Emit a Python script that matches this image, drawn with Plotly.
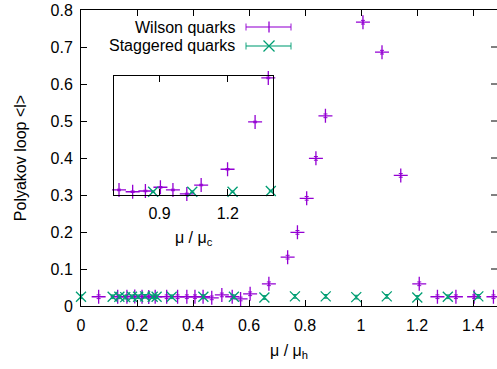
import plotly.graph_objects as go

# ---------------- data ----------------
# main plot: Polyakov loop vs mu/mu_h
wilson_mu_h = [0.063, 0.131, 0.164, 0.192, 0.218, 0.242, 0.265, 0.306, 0.345, 0.378,
               0.407, 0.436, 0.467, 0.503, 0.540, 0.570, 0.604, 0.671, 0.738, 0.773,
               0.806, 0.839, 0.873, 1.007, 1.075, 1.142, 1.208, 1.273, 1.339, 1.404, 1.473]
wilson_pl = [0.025, 0.025, 0.025, 0.026, 0.025, 0.024, 0.025, 0.025, 0.025, 0.025,
             0.025, 0.025, 0.022, 0.030, 0.025, 0.019, 0.033, 0.060, 0.132, 0.199,
             0.291, 0.399, 0.514, 0.767, 0.686, 0.353, 0.060, 0.025, 0.025, 0.025, 0.025]

stag_mu_h = [0.000, 0.113, 0.137, 0.158, 0.182, 0.204, 0.229, 0.256, 0.270, 0.324,
             0.437, 0.546, 0.655, 0.764, 0.874, 0.983, 1.092, 1.201, 1.310, 1.419]
stag_pl = [0.025, 0.025, 0.025, 0.024, 0.025, 0.025, 0.026, 0.025, 0.025, 0.025,
           0.025, 0.025, 0.023, 0.026, 0.026, 0.024, 0.026, 0.023, 0.025, 0.026]

# inset: vs mu/mu_c
inset_wilson_mu_c = [0.722, 0.782, 0.838, 0.904, 0.959, 1.020, 1.083, 1.199, 1.320, 1.378]
inset_wilson_pl = [0.034, 0.022, 0.027, 0.052, 0.034, 0.007, 0.067, 0.173, 0.491, 0.787]
inset_stag_mu_c = [0.872, 1.044, 1.221, 1.389]
inset_stag_pl = [0.022, 0.022, 0.022, 0.027]

x_ticks = [0, 0.2, 0.4, 0.6, 0.8, 1.0, 1.2, 1.4]
x_ticktext = ["0", "0.2", "0.4", "0.6", "0.8", "1", "1.2", "1.4"]
y_ticks = [0, 0.1, 0.2, 0.3, 0.4, 0.5, 0.6, 0.7, 0.8]
y_ticktext = ["0", "0.1", "0.2", "0.3", "0.4", "0.5", "0.6", "0.7", "0.8"]
inset_ticks = [0.9, 1.2]
inset_ticktext = ["0.9", "1.2"]

# ---------------- style ----------------
PURPLE = "#9400d3"
GREEN = "#009e73"
FONT = "Liberation Sans, Arial, sans-serif"
W, H = 497, 369
ML, MR, MT, MB = 81, 0, 10, 63
PW, PH = W - ML - MR, H - MT - MB

def px_x(p):
    return (p - ML) / PW

def px_y(p):
    return 1 - (p - MT) / PH

fig = go.Figure()

def add_series(x, y, color, symbol, xa, ya):
    fig.add_trace(go.Scatter(
        x=x, y=y, mode="markers", xaxis=xa, yaxis=ya, cliponaxis=False,
        showlegend=False,
        marker=dict(symbol=symbol, size=10, color=color,
                    line=dict(color=color, width=1.3)),
        error_y=dict(type="constant", value=0.005, color=color, thickness=1, width=2),
    ))

add_series(wilson_mu_h, wilson_pl, PURPLE, "cross-thin", "x", "y")
add_series(stag_mu_h, stag_pl, GREEN, "x-thin", "x", "y")
add_series(inset_wilson_mu_c, inset_wilson_pl, PURPLE, "cross-thin", "x2", "y2")
add_series(inset_stag_mu_c, inset_stag_pl, GREEN, "x-thin", "x2", "y2")

axis_common = dict(showgrid=False, zeroline=False, showline=True, linecolor="black",
                   linewidth=1, ticks="inside", tickcolor="black", ticklen=6,
                   tickfont=dict(family=FONT, size=16, color="black"))

fig.update_layout(
    width=W, height=H,
    margin=dict(l=ML, r=MR, t=MT, b=MB, pad=0),
    paper_bgcolor="white", plot_bgcolor="white",
    font=dict(family=FONT, size=16, color="black"),
    xaxis=dict(range=[0, 1.4857], tickvals=x_ticks, ticktext=x_ticktext,
               mirror="ticks", domain=[0, 1], ticklabelstandoff=5,
               title=dict(text="μ / μ<sub>h</sub>", standoff=11,
                          font=dict(family=FONT, size=16)),
               **axis_common),
    yaxis=dict(range=[0, 0.8], tickvals=y_ticks, ticktext=y_ticktext,
               mirror=False, domain=[0, 1], ticklabelstandoff=4,
               title=dict(text="Polyakov loop &lt;l&gt;", standoff=19,
                          font=dict(family=FONT, size=16)),
               **axis_common),
    xaxis2=dict(range=[0.7, 1.4], tickvals=inset_ticks, ticktext=inset_ticktext,
                mirror="ticks", anchor="y2", domain=[px_x(114), px_x(273.3)],
                ticklabelstandoff=4,
                title=dict(text="μ / μ<sub>c</sub>", standoff=10,
                           font=dict(family=FONT, size=16)),
                **axis_common),
    yaxis2=dict(range=[0, 0.8], anchor="x2", domain=[px_y(195), px_y(76)],
                showgrid=False, zeroline=False, showline=True, linecolor="black",
                linewidth=1, mirror=True, ticks="", showticklabels=False),
)

shapes = []
# right-hand mirrored ticks (frame edge lies beyond the visible image)
for yv in y_ticks[1:-1]:
    shapes.append(dict(type="line", xref="paper", yref="y",
                       x0=1 - 6 / PW, x1=1, y0=yv, y1=yv,
                       line=dict(color="black", width=1)))

# manual gnuplot-style key
key_rows = [("Wilson quarks", PURPLE, "plus", 27), ("Staggered quarks", GREEN, "x", 46)]
annotations = []
for label, color, mk, ypx in key_rows:
    yp = px_y(ypx)
    annotations.append(dict(text=label, xref="paper", yref="paper", x=px_x(237),
                            y=yp, xanchor="right", yanchor="middle", showarrow=False,
                            font=dict(family=FONT, size=16, color="black")))
    x0, x1, xc = px_x(246), px_x(291), px_x(269)
    cap = 3.5 / PH
    lc = dict(color=color, width=1.3)
    shapes.append(dict(type="line", xref="paper", yref="paper", x0=x0, x1=x1,
                       y0=yp, y1=yp, line=lc, opacity=0.7))
    shapes.append(dict(type="line", xref="paper", yref="paper", x0=x0, x1=x0,
                       y0=yp - cap, y1=yp + cap, line=lc, opacity=0.7))
    shapes.append(dict(type="line", xref="paper", yref="paper", x0=x1, x1=x1,
                       y0=yp - cap, y1=yp + cap, line=lc, opacity=0.7))
    dx, dy = 5.5 / PW, 5.5 / PH
    if mk == "plus":
        shapes.append(dict(type="line", xref="paper", yref="paper", x0=xc, x1=xc,
                           y0=yp - dy, y1=yp + dy, line=lc))
    else:
        shapes.append(dict(type="line", xref="paper", yref="paper", x0=xc - dx,
                           x1=xc + dx, y0=yp - dy, y1=yp + dy, line=lc))
        shapes.append(dict(type="line", xref="paper", yref="paper", x0=xc - dx,
                           x1=xc + dx, y0=yp + dy, y1=yp - dy, line=lc))

fig.update_layout(shapes=shapes, annotations=annotations)

fig.write_html("out.html")
